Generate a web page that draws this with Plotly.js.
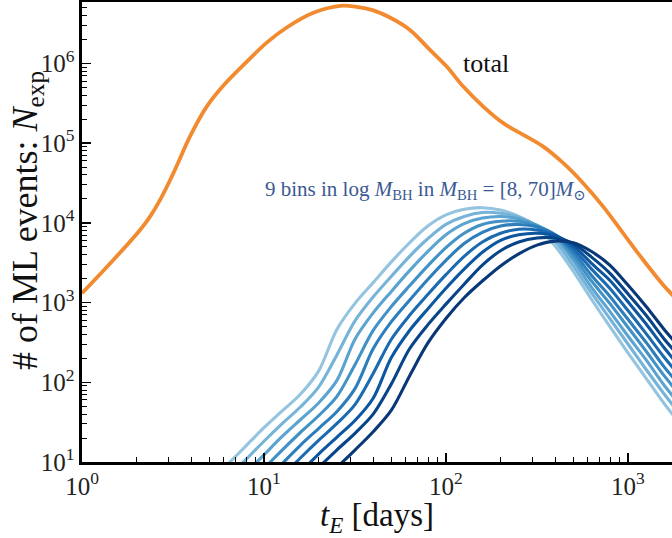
<!DOCTYPE html>
<html>
<head>
<meta charset="utf-8">
<script src="https://cdn.plot.ly/plotly-3.0.1.min.js"></script>
<style>
html,body{margin:0;padding:0;overflow:hidden;background:#fff;}
#chart{width:690px;height:538px;}
</style>
</head>
<body>
<div id="chart"></div>
<script>
// ---- data (log10 values) ----
const logT_total = [0, 0.172, 0.319, 0.374, 0.429, 0.502, 0.593, 0.685, 0.776, 0.905, 1.015, 1.125, 1.271, 1.418, 1.509, 1.601, 1.692, 1.802, 1.912, 2.004, 2.095, 2.205, 2.315, 2.425, 2.535, 2.645, 2.754, 2.864, 2.974, 3.084, 3.194, 3.242, 3.341];
const logN_total = [3.117, 3.534, 3.911, 4.078, 4.287, 4.622, 5.082, 5.458, 5.72, 6.02, 6.26, 6.45, 6.635, 6.722, 6.71, 6.665, 6.575, 6.420, 6.169, 5.960, 5.709, 5.458, 5.250, 5.103, 4.956, 4.748, 4.497, 4.203, 3.869, 3.534, 3.22, 3.10, 2.83];

const logT_bins = [0.6, 0.7, 0.8, 0.9, 1.0, 1.1, 1.2, 1.3, 1.4, 1.5, 1.6, 1.7, 1.8, 1.9, 2.0, 2.1, 2.2, 2.3, 2.4, 2.5, 2.6, 2.7, 2.8, 2.9, 3.0, 3.1, 3.2, 3.3, 3.34];
const logN_bin1 = [0.50, 0.74, 0.97, 1.20, 1.43, 1.64, 1.85, 2.14, 2.66, 2.99, 3.25, 3.51, 3.75, 3.96, 4.10, 4.17, 4.19, 4.16, 4.08, 3.95, 3.71, 3.39, 3.04, 2.70, 2.37, 2.05, 1.73, 1.44, 1.32];
const logN_bin2 = [null, 0.57, 0.80, 1.03, 1.26, 1.48, 1.69, 1.94, 2.34, 2.77, 3.07, 3.33, 3.58, 3.80, 3.98, 4.08, 4.13, 4.12, 4.07, 3.96, 3.77, 3.46, 3.12, 2.80, 2.48, 2.16, 1.85, 1.56, 1.44];
const logN_bin3 = [null, 0.39, 0.63, 0.86, 1.09, 1.32, 1.53, 1.74, 2.02, 2.54, 2.87, 3.14, 3.40, 3.64, 3.85, 3.99, 4.06, 4.08, 4.05, 3.97, 3.82, 3.53, 3.19, 2.89, 2.58, 2.28, 1.96, 1.68, 1.57];
const logN_bin4 = [null, null, 0.46, 0.69, 0.92, 1.15, 1.37, 1.58, 1.82, 2.22, 2.65, 2.95, 3.21, 3.46, 3.69, 3.87, 3.98, 4.02, 4.02, 3.96, 3.84, 3.58, 3.27, 2.99, 2.69, 2.39, 2.08, 1.80, 1.69];
const logN_bin5 = [null, null, 0.29, 0.52, 0.75, 0.98, 1.21, 1.42, 1.63, 1.92, 2.42, 2.76, 3.03, 3.29, 3.53, 3.74, 3.88, 3.96, 3.98, 3.95, 3.85, 3.63, 3.34, 3.08, 2.79, 2.50, 2.19, 1.92, 1.81];
const logN_bin6 = [null, null, null, 0.35, 0.59, 0.82, 1.05, 1.27, 1.48, 1.72, 2.11, 2.54, 2.84, 3.10, 3.35, 3.58, 3.76, 3.87, 3.92, 3.91, 3.85, 3.67, 3.42, 3.18, 2.90, 2.61, 2.31, 2.04, 1.93];
const logN_bin7 = [null, null, null, 0.17, 0.41, 0.64, 0.87, 1.10, 1.31, 1.52, 1.80, 2.31, 2.65, 2.92, 3.18, 3.42, 3.63, 3.78, 3.85, 3.87, 3.84, 3.71, 3.49, 3.28, 3.01, 2.73, 2.43, 2.16, 2.06];
const logN_bin8 = [null, null, null, null, 0.24, 0.46, 0.69, 0.93, 1.15, 1.36, 1.60, 1.98, 2.42, 2.72, 2.98, 3.23, 3.47, 3.65, 3.76, 3.81, 3.81, 3.74, 3.57, 3.37, 3.11, 2.84, 2.54, 2.28, 2.18];
const logN_bin9 = [null, null, null, null, null, 0.30, 0.53, 0.70, 0.93, 1.15, 1.38, 1.65, 2.08, 2.49, 2.80, 3.06, 3.27, 3.46, 3.61, 3.72, 3.77, 3.75, 3.64, 3.47, 3.22, 2.95, 2.66, 2.40, 2.30];

const binColors = ['#94c4df', '#75b4d8', '#5ba3d0', '#4292c6', '#2e7ebc', '#1c6bb0', '#0d57a1', '#084488', '#083878'];

const xTickVals = [1, 10, 100, 1000];
const xTickText = ['10<sup>0</sup>', '10<sup>1</sup>', '10<sup>2</sup>', '10<sup>3</sup>'];
const yTickVals = [10, 100, 1000, 1e4, 1e5, 1e6];
const yTickText = ['10<sup>1</sup>', '10<sup>2</sup>', '10<sup>3</sup>', '10<sup>4</sup>', '10<sup>5</sup>', '10<sup>6</sup>'];

const xTitle = '<i>t</i><sub><i>E</i></sub> [days]';
const yTitle = '# of ML events: <i>N</i><sub>exp</sub>';
const totalLabel = 'total';
const binsLabel = '9 bins in log <i>M</i><sub>BH</sub> in <i>M</i><sub>BH</sub> = [8, 70]<i>M</i><sub>⊙</sub>';

// ---- build ----
const pow10 = a => a.map(v => v === null ? null : Math.pow(10, v));
function minorVals(lo, hi) {
  const out = [];
  for (let e = lo; e <= hi; e++) for (let m = 2; m <= 9; m++) out.push(m * Math.pow(10, e));
  return out;
}

const bins = [logN_bin1, logN_bin2, logN_bin3, logN_bin4, logN_bin5, logN_bin6, logN_bin7, logN_bin8, logN_bin9];
const traces = [{
  x: pow10(logT_total), y: pow10(logN_total), mode: 'lines',
  line: {color: '#f28a30', width: 3.8, shape: 'spline', smoothing: 1},
  hoverinfo: 'skip', showlegend: false
}];
bins.forEach((b, i) => traces.push({
  x: pow10(logT_bins), y: pow10(b), mode: 'lines',
  line: {color: binColors[i], width: 3.1, shape: 'spline', smoothing: 0.9},
  hoverinfo: 'skip', showlegend: false
}));

const font = '"Liberation Serif", "DejaVu Serif", serif';
const axisCommon = {
  type: 'log', showline: true, linecolor: '#000', linewidth: 2.6, mirror: true,
  ticks: 'inside', ticklen: 9, tickwidth: 1.5, tickcolor: '#000',
  showgrid: false, zeroline: false,
  tickfont: {family: font, size: 25, color: '#222'},
  tickmode: 'array'
};

const layout = {
  width: 690, height: 538,
  margin: {l: 82, r: 0, t: 2, b: 76},
  paper_bgcolor: '#fff', plot_bgcolor: '#fff',
  font: {family: font},
  showlegend: false,
  xaxis: Object.assign({}, axisCommon, {
    range: [0, 3.341], tickvals: xTickVals, ticktext: xTickText,
    minor: {tickmode: 'array', tickvals: minorVals(0, 3), ticks: 'inside', ticklen: 5, tickwidth: 1, tickcolor: '#000', showgrid: false}
  }),
  yaxis: Object.assign({}, axisCommon, {
    range: [1, 6.77], tickvals: yTickVals, ticktext: yTickText,
    minor: {tickmode: 'array', tickvals: minorVals(1, 6), ticks: 'inside', ticklen: 5, tickwidth: 1, tickcolor: '#000', showgrid: false}
  }),
  annotations: [
    {xref: 'paper', yref: 'paper', x: 0.4852, y: -0.1196, xanchor: 'center', yanchor: 'middle', showarrow: false,
     text: xTitle, font: {family: font, size: 33, color: '#111'}},
    {xref: 'paper', yref: 'paper', x: -0.0905, y: 0.526, xanchor: 'center', yanchor: 'middle', showarrow: false,
     textangle: -90, text: yTitle, font: {family: font, size: 36, color: '#111'}},
    {xref: 'x', yref: 'y', x: 2.082, y: 6.0, xanchor: 'left', yanchor: 'middle', showarrow: false,
     text: totalLabel, font: {family: font, size: 26, color: '#111'}},
    {xref: 'x', yref: 'y', x: 0.995, y: 4.41, xanchor: 'left', yanchor: 'middle', showarrow: false,
     text: binsLabel, font: {family: font, size: 21, color: '#3b5a94'}}
  ]
};

Plotly.newPlot('chart', traces, layout, {staticPlot: true, displayModeBar: false});
</script>
</body>
</html>
